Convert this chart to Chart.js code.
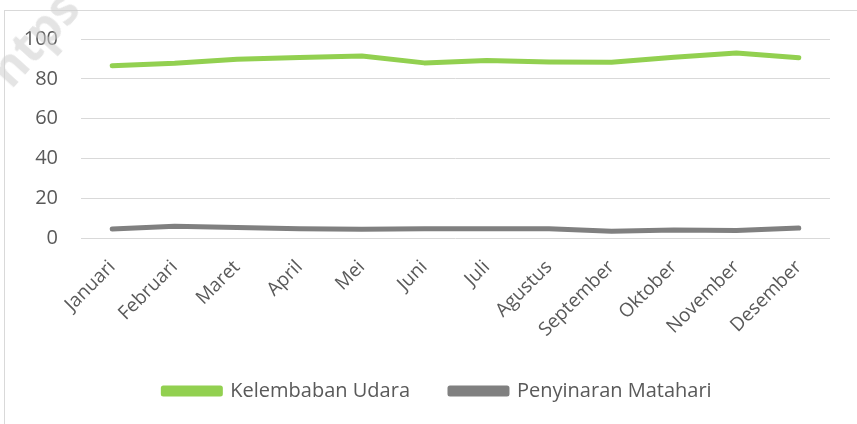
<!DOCTYPE html>
<html>
<head>
<meta charset="utf-8">
<script src="https://cdn.jsdelivr.net/npm/chart.js@4.4.0/dist/chart.umd.min.js"></script>
<style>
  html, body { margin: 0; padding: 0; background: #ffffff; }
  #wrap { position: relative; width: 857px; height: 424px; overflow: hidden; background: #fff; }
  #frame { position: absolute; left: 4px; top: 10px; width: 1000px; height: 600px;
           border-left: 1px solid #d9d9d9; border-top: 1px solid #d9d9d9; }
  #wm { position: absolute; left: -20px; top: 62px; font-family: "Open Sans", sans-serif;
        font-weight: 700; font-size: 48px; line-height: 48px; color: rgba(205,205,205,0.55);
        transform: rotate(-48deg); transform-origin: left top; white-space: nowrap; z-index: 5; pointer-events: none; }
  canvas { position: absolute; left: 0; top: 0; }
</style>
</head>
<body>
<div id="wrap">
  <div id="frame"></div>
  <canvas id="c" width="857" height="424"></canvas>
  <div id="wm">ntps</div>
</div>
<script>
const categories = ["Januari","Februari","Maret","April","Mei","Juni","Juli","Agustus","September","Oktober","November","Desember"];
const kelembaban = [86.5, 87.8, 89.8, 90.7, 91.5, 88.0, 89.2, 88.5, 88.3, 90.8, 93.0, 90.6];
const penyinaran = [4.5, 5.9, 5.3, 4.6, 4.4, 4.6, 4.6, 4.6, 3.4, 4.0, 3.8, 5.0];
const yTicks = [0, 20, 40, 60, 80, 100];

const textColor = "#595959";
const font = "'Open Sans', sans-serif";

new Chart(document.getElementById("c"), {
  type: "line",
  data: {
    labels: categories,
    datasets: [
      { label: "Kelembaban Udara", data: kelembaban, borderColor: "#92d050", backgroundColor: "#92d050",
        borderWidth: 5, pointRadius: 0, tension: 0, borderCapStyle: "round", borderJoinStyle: "round" },
      { label: "Penyinaran Matahari", data: penyinaran, borderColor: "#808080", backgroundColor: "#808080",
        borderWidth: 5, pointRadius: 0, tension: 0, borderCapStyle: "round", borderJoinStyle: "round" }
    ]
  },
  options: {
    responsive: false,
    animation: false,
    layout: { padding: { left: 18, right: 0, top: 39, bottom: 13 } },
    plugins: {
      tooltip: { enabled: false },
      legend: {
        position: "bottom",
        labels: {
          color: textColor,
          font: { family: font, size: 20 },
          boxWidth: 57, boxHeight: 6, padding: 40
        }
      }
    },
    scales: {
      x: {
        offset: true,
        grid: { display: false, drawTicks: false },
        border: { display: false },
        ticks: { color: textColor, font: { family: font, size: 19 }, maxRotation: 45, minRotation: 45, padding: 18, autoSkip: false },
        afterFit: s => { s.height = 103; }
      },
      y: {
        min: 0, max: 100,
        afterBuildTicks: s => { s.ticks = yTicks.map(v => ({ value: v })); },
        grid: { color: "#d9d9d9", lineWidth: 1, drawTicks: false },
        border: { display: false },
        ticks: { color: textColor, font: { family: font, size: 20 }, padding: 23 },
        afterFit: s => { s.width = 63; }
      },
      yRight: {
        position: "right",
        display: true,
        grid: { display: false, drawTicks: false },
        border: { display: false },
        ticks: { display: false },
        afterFit: s => { s.width = 27; }
      }
    }
  }
});
</script>
</body>
</html>
